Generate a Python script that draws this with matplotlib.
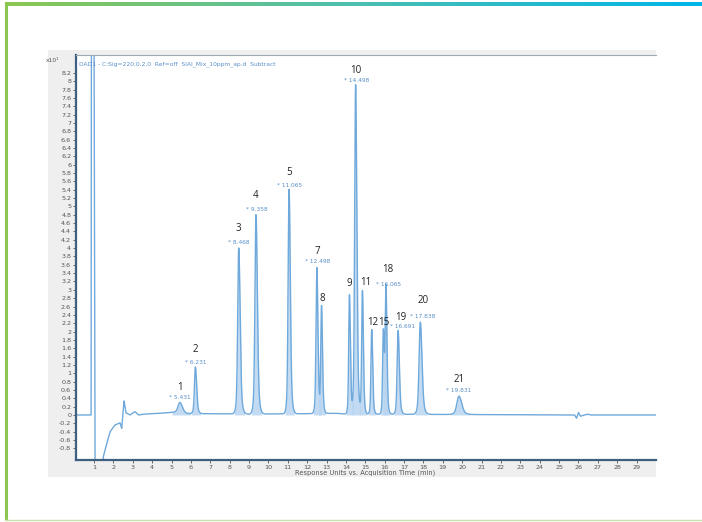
import numpy as np
import matplotlib
matplotlib.use("Agg")
import matplotlib.pyplot as plt
from matplotlib.lines import Line2D
from matplotlib.colors import LinearSegmentedColormap

# ---------------- data ----------------
peak_labels = ['1', '2', '3', '4', '5', '7', '8', '9', '10', '11', '12', '15', '18', '19', '20', '21']
peak_rt = [5.431, 6.231, 8.468, 9.358, 11.065, 12.498, 12.74, 14.18, 14.498, 14.85, 15.33, 15.93, 16.065, 16.691, 17.838, 19.831]
peak_height = [0.25, 1.12, 3.98, 4.78, 5.38, 3.50, 2.55, 2.86, 7.90, 2.95, 2.03, 1.98, 2.98, 2.01, 2.21, 0.44]
peak_sigma = [0.09, 0.045, 0.05, 0.05, 0.045, 0.04, 0.035, 0.035, 0.045, 0.035, 0.035, 0.035, 0.035, 0.045, 0.06, 0.1]
rt_shown = [True, True, True, True, True, True, False, False, True, False, False, False, True, True, True, True]

# baseline / solvent-front trace (time, response)
base_t = [0.07, 0.85, 0.86, 1.0, 1.05, 1.45, 1.48, 1.66, 1.83, 2.08, 2.34, 2.43, 2.55, 2.65, 2.86, 3.11,
          3.29, 3.6, 4.0, 4.5, 4.9, 5.2, 5.8, 7.0, 9.0, 12.0, 13.5, 14.0, 20.0, 25.8, 25.9, 26.0, 26.1,
          26.3, 26.5, 26.6, 30.0]
base_v = [0.0, 0.0, 9.5, 9.5, -1.4, -1.4, -1.0, -0.68, -0.40, -0.24, -0.19, -0.32, 0.34, 0.05, 0.0, 0.08,
          0.0, 0.02, 0.03, 0.04, 0.06, 0.06, 0.03, 0.03, 0.02, 0.03, 0.04, 0.02, 0.01, 0.0, -0.08, 0.06, -0.03,
          0.0, 0.02, 0.0, 0.0]

x_ticks = list(range(1, 30))
y_ticks = [round(v * 0.2, 1) for v in range(-4, 42)]

header = "DAD1 - C:Sig=220.0,2.0  Ref=off  SIAI_Mix_10ppm_ap.d  Subtract"
x_label = "Response Units vs. Acquisition Time (min)"
y_exp = "x10\u00b9"

# label offsets in pixels (number dx, number dy, rt dx, rt dy)
label_off = {
    '1': (0, 15, 0, 5), '2': (0, 17, 0, 4), '3': (0, 18, 0, 4), '4': (0, 18, 1, 4),
    '5': (0, 16, 0, 3), '7': (0, 15, 1, 5), '8': (1, 8, 0, 0), '9': (0, 10, 0, 0),
    '10': (0, 13, 1, 3), '11': (3, 7, 0, 0), '12': (1, 6, 0, 0), '15': (0, 8, 0, 0),
    '18': (2, 19, 3, 4), '19': (3, 12, 4, 3), '20': (3, 20, 2, 4), '21': (0, 15, 0, 4),
}

# ---------------- figure ----------------
W, H = 702, 522
fig = plt.figure(figsize=(W / 100, H / 100), dpi=100)
fig.patch.set_facecolor('white')

def fx(px):
    return px / W

def fy(py):
    return 1 - py / H

# grey panel behind axes
bg = fig.add_axes([fx(48), fy(477), fx(656) - fx(48), fy(50) - fy(477)], zorder=-5)
bg.set_facecolor('#efefef')
bg.set_xticks([]); bg.set_yticks([])
for s in bg.spines.values():
    s.set_visible(False)

# outer frame: green left line, gradient top line, faint bottom line
fig.lines.append(Line2D([fx(5.5), fx(5.5)], [fy(4), fy(519)], transform=fig.transFigure,
                        color='#8cc751', lw=2.2))
fig.lines.append(Line2D([fx(5), fx(702)], [fy(519.5), fy(519.5)], transform=fig.transFigure,
                        color='#c6e3b0', lw=1.0))
gax = fig.add_axes([fx(5), fy(6), 1 - fx(5), fy(2) - fy(6)])
grad = np.linspace(0, 1, 256)[None, :]
gcm = LinearSegmentedColormap.from_list('g', ['#8cc751', '#4cbfb0', '#00b5e8'])
gax.imshow(grad, aspect='auto', cmap=gcm)
gax.set_axis_off()

ax = fig.add_axes([fx(76), fy(460), fx(656) - fx(76), fy(55) - fy(460)], zorder=2)
ax.set_facecolor('white')

t = np.linspace(0.07, 30, 12000)
trace = np.interp(t, base_t, base_v)
for rt, h, s in zip(peak_rt, peak_height, peak_sigma):
    sig = np.where(t < rt, s, s * 1.35)
    core = np.exp(-0.5 * ((t - rt) / sig) ** 2)
    wide = np.exp(-0.5 * ((t - rt) / (2.0 * sig)) ** 2)
    trace = trace + h * (0.86 * core + 0.14 * wide)

line_c = '#6fa9dc'
fill_c = '#b8d5f0'
for rt, s in zip(peak_rt, peak_sigma):
    m = (t > rt - 4.5 * s) & (t < rt + 6.0 * s)
    ax.fill_between(t[m], 0, trace[m], color=fill_c, alpha=0.85, lw=0, zorder=1)
ax.plot(t, trace, color=line_c, lw=1.0, zorder=2)

ax.set_xlim(0.07, 30)
ax.set_ylim(-1.08, 8.63)
ax.set_xticks(x_ticks)
ax.set_xticklabels([str(v) for v in x_ticks])
ax.set_yticks(y_ticks)
ax.set_yticklabels([('%g' % v) for v in y_ticks])
ax.tick_params(axis='both', direction='out', labelsize=4.6, colors='#555555', length=2.5, width=0.6, pad=1)
ax.tick_params(axis='x', pad=0.8)

for side in ['left', 'bottom']:
    ax.spines[side].set_color('#3f5f80')
    ax.spines[side].set_linewidth(1.6)
ax.spines['top'].set_color('#a0a8b0')
ax.spines['top'].set_linewidth(0.8)
ax.spines['right'].set_visible(False)

ax.text(0.0045, 0.985, header, transform=ax.transAxes, fontsize=4.3, color='#5a8fc8',
        ha='left', va='top')
fig.text(fx(46), fy(61), y_exp, fontsize=4.3, color='#555555', ha='left', va='center')
fig.text(fx(365), fy(473), x_label, fontsize=4.8, color='#555555', ha='center', va='center')

for lab, rt, h, shown in zip(peak_labels, peak_rt, peak_height, rt_shown):
    ndx, ndy, rdx, rdy = label_off[lab]
    apex = h + 0.05
    ax.annotate(lab, (rt, apex), xytext=(ndx, ndy), textcoords='offset pixels',
                ha='center', va='center', fontsize=7, color='#222222', family='Open Sans', zorder=5)
    if shown:
        ax.annotate('* ' + ('%.3f' % rt), (rt, apex), xytext=(rdx, rdy), textcoords='offset pixels',
                    ha='center', va='center', fontsize=4.2, color='#5a8fc8', zorder=5)

fig.savefig('out.png', dpi=100)
